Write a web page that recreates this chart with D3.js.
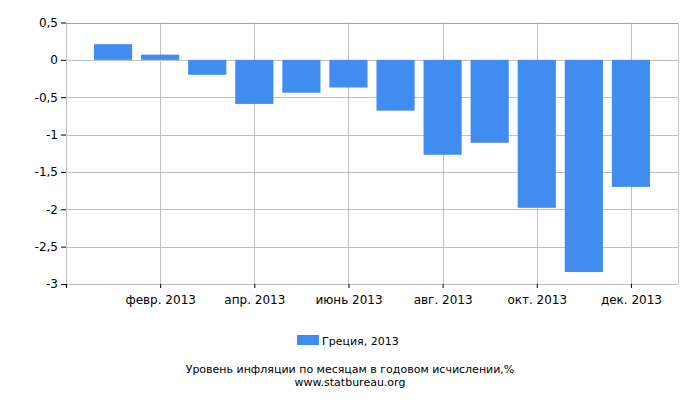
<!DOCTYPE html>
<html>
<head>
<meta charset="utf-8">
<script src="https://cdn.jsdelivr.net/npm/d3@7"></script>
<style>
  body { margin: 0; background: #fff; }
  text { font-family: "DejaVu Sans", sans-serif; }
</style>
</head>
<body>
<div id="chart"></div>
<script>
// Data
const months = [1, 2, 3, 4, 5, 6, 7, 8, 9, 10, 11, 12];
const values = [0.21, 0.07, -0.2, -0.59, -0.44, -0.37, -0.68, -1.27, -1.11, -1.98, -2.84, -1.7];
const xTickMonths = [2, 4, 6, 8, 10, 12];
const xTickLabels = ["февр. 2013", "апр. 2013", "июнь 2013", "авг. 2013", "окт. 2013", "дек. 2013"];
const yTicks = [0.5, 0, -0.5, -1, -1.5, -2, -2.5, -3];
const seriesName = "Греция, 2013";

const width = 700;
const height = 400;
const plot = { left: 66, right: 678, top: 22.5, bottom: 284 };
const barColor = "#418cf0";

const svg = d3.select("#chart")
    .append("svg")
    .attr("width", width)
    .attr("height", height);

// month position scale: 0 = dec 2012 edge, 13 = right edge
const x = d3.scaleLinear().domain([0, 13]).range([plot.left, plot.right]);
const y = d3.scaleLinear().domain([0.5, -3]).range([plot.top, plot.bottom]);
const barW = (x(1) - x(0)) * 0.81;

// horizontal gridlines
svg.append("g")
    .selectAll("line")
    .data(yTicks)
    .enter().append("line")
    .attr("x1", plot.left)
    .attr("x2", plot.right)
    .attr("y1", d => Math.round(y(d)) + 0.5)
    .attr("y2", d => Math.round(y(d)) + 0.5)
    .attr("stroke", d => d === 0.5 ? "#a0a0a0" : "#c0c0c0")
    .attr("stroke-width", 1);

// vertical gridlines
svg.append("g")
    .selectAll("line")
    .data(xTickMonths)
    .enter().append("line")
    .attr("x1", d => Math.round(x(d)) + 0.5)
    .attr("x2", d => Math.round(x(d)) + 0.5)
    .attr("y1", plot.top)
    .attr("y2", plot.bottom)
    .attr("stroke", "#c0c0c0");

// left and right borders
svg.append("line")
    .attr("x1", plot.left + 0.5).attr("x2", plot.left + 0.5)
    .attr("y1", plot.top).attr("y2", plot.bottom)
    .attr("stroke", "#c0c0c0");
svg.append("line")
    .attr("x1", plot.right + 0.5).attr("x2", plot.right + 0.5)
    .attr("y1", plot.top).attr("y2", plot.bottom)
    .attr("stroke", "#c8c8c8");

// bars
svg.append("g")
    .selectAll("rect")
    .data(months)
    .enter().append("rect")
    .attr("x", d => x(d) - barW / 2)
    .attr("width", barW)
    .attr("y", (d, i) => y(Math.max(0, values[i])))
    .attr("height", (d, i) => Math.abs(y(values[i]) - y(0)))
    .attr("fill", barColor);

// y axis
const yAxis = d3.axisLeft(y)
    .tickValues(yTicks)
    .tickSize(5)
    .tickPadding(3)
    .tickFormat(d => String(d).replace(".", ","));

svg.append("g")
    .attr("transform", `translate(${plot.left},0)`)
    .call(yAxis)
    .call(g => g.select(".domain").remove())
    .call(g => g.selectAll("text").style("font-size", "12px").attr("fill", "#000"));

// x axis
const xAxis = d3.axisBottom(x)
    .tickValues([0].concat(xTickMonths))
    .tickSize(4)
    .tickPadding(7)
    .tickFormat(d => d === 0 ? "" : xTickLabels[xTickMonths.indexOf(d)]);

svg.append("g")
    .attr("transform", `translate(0,${plot.bottom})`)
    .call(xAxis)
    .call(g => g.select(".domain").remove())
    .call(g => g.selectAll("text").style("font-size", "12px").attr("fill", "#000"));

// legend
const legend = svg.append("g")
    .attr("transform", "translate(297,335)");

legend.append("rect")
    .attr("width", 22)
    .attr("height", 10)
    .attr("fill", barColor);

legend.append("text")
    .attr("x", 25)
    .attr("y", 10)
    .style("font-size", "11px")
    .text(seriesName);

// caption
svg.append("text")
    .attr("x", 350)
    .attr("y", 373)
    .attr("text-anchor", "middle")
    .style("font-size", "11px")
    .text("Уровень инфляции по месяцам в годовом исчислении,%");

svg.append("text")
    .attr("x", 350)
    .attr("y", 386)
    .attr("text-anchor", "middle")
    .style("font-size", "11px")
    .text("www.statbureau.org");
</script>
</body>
</html>
